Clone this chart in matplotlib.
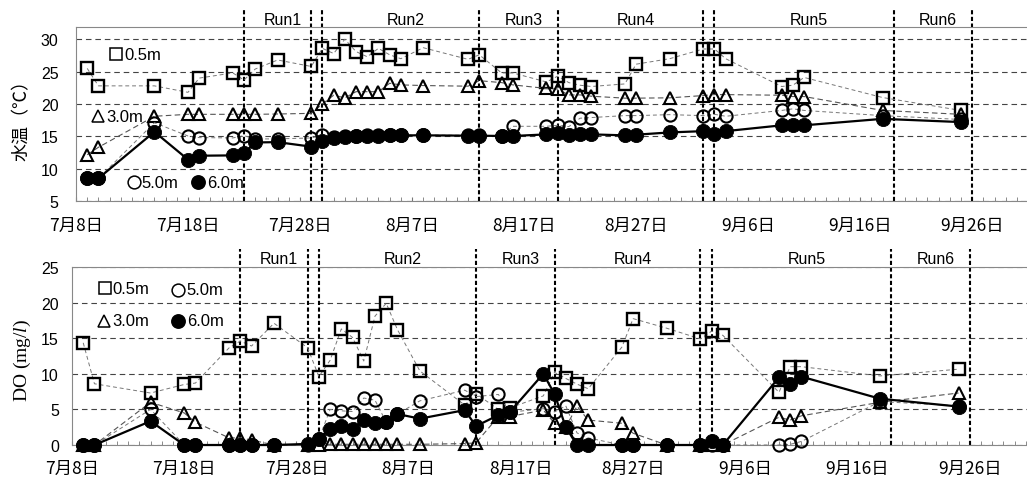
import datetime as dt
import matplotlib
matplotlib.use("Agg")
import matplotlib.pyplot as plt
import matplotlib.transforms as mtransforms
from matplotlib.lines import Line2D
from matplotlib.ticker import FixedLocator, MultipleLocator

plt.rcParams['font.family'] = ['Liberation Sans', 'Noto Sans CJK JP']
plt.rcParams['mathtext.fontset'] = 'custom'
plt.rcParams['mathtext.rm'] = 'Liberation Serif'
plt.rcParams['mathtext.it'] = 'Liberation Serif:italic'

# ---- sampling dates (month/day) ----
dates = ["7/9", "7/10", "7/15", "7/18", "7/19", "7/22", "7/23", "7/24", "7/26",
         "7/29", "7/30", "7/31", "8/1", "8/2", "8/3", "8/4", "8/5", "8/6", "8/8",
         "8/12", "8/13", "8/15", "8/16", "8/19", "8/20", "8/21", "8/22", "8/23",
         "8/26", "8/27", "8/30", "9/2", "9/3", "9/4", "9/9", "9/10", "9/11",
         "9/18", "9/25"]

# ---- water temperature (deg C) by depth ----
temp_05 = [25.5, 22.8, 22.8, 21.8, 24.0, 24.8, 23.7, 25.4, 26.8, 25.8, 28.6, 27.8,
           30.0, 28.1, 27.3, 28.6, 27.6, 27.0, 28.7, 26.9, 27.6, 24.8, 24.8, 23.4,
           24.3, 23.3, 22.9, 22.7, 23.1, 26.15, 27.0, 28.5, 28.5, 27.0, 22.7, 22.9,
           24.1, 21.0, 19.0]
temp_30 = [12.15, 13.3, 18.1, 18.4, 18.4, 18.4, 18.4, 18.4, 18.45, 18.55, 20.0, 21.35,
           20.95, 21.9, 21.9, 21.9, 23.2, 22.95, 22.85, 22.75, 23.6, 23.3, 22.95, 22.4,
           22.3, 21.4, 21.4, 21.2, 20.9, 20.9, 20.95, 21.3, 21.45, 21.45, 21.35, 21.15,
           21.15, 19.0, 18.4]
temp_50 = [8.5, 8.5, 17.1, 15.05, 14.8, 14.75, 15.1, 14.6, 14.6, 14.75, 15.15, 14.9,
           15.0, 15.1, 15.15, 15.15, 15.2, 15.2, 15.2, 15.15, 15.15, 15.1, 16.55, 16.55,
           16.7, 16.5, 17.8, 17.9, 18.2, 18.2, 18.35, 18.2, 18.4, 18.1, 19.0, 19.25,
           19.0, 18.2, 17.6]
temp_60 = [8.5, 8.5, 15.7, 11.4, 12.0, 12.05, 12.35, 14.05, 14.1, 13.4, 14.3, 14.8,
           14.95, 15.05, 15.1, 15.1, 15.15, 15.15, 15.15, 15.1, 15.1, 15.05, 15.05, 15.3,
           15.5, 15.2, 15.3, 15.3, 15.15, 15.25, 15.6, 15.8, 15.4, 15.8, 16.7, 16.7,
           16.7, 17.7, 17.2]

# ---- dissolved oxygen (mg/l) by depth ----
do_05 = [14.35, 8.6, 7.3, 8.5, 8.7, 13.65, 14.6, 13.9, 17.1, 13.65, 9.6, 11.9, 16.3,
         15.1, 11.8, 18.1, 19.9, 16.2, 10.4, 5.6, 7.2, 5.0, 5.2, 6.9, 10.2, 9.35, 8.55,
         7.9, 13.75, 17.75, 16.4, 14.9, 16.0, 15.4, 7.4, 11.0, 11.0, 9.7, 10.65]
do_30 = [0, 0, 6.0, 4.5, 3.2, 1.0, 1.0, 0.7, 0, 0, 0, 0.1, 0.1, 0.1, 0.1, 0.1, 0.1,
         0.1, 0.1, 0.2, 0.3, 4.0, 4.0, 4.9, 3.05, 2.5, 5.45, 3.5, 3.05, 1.65, 0, 0, 0,
         0, 3.9, 3.5, 4.1, 6.0, 7.3]
do_50 = [0, 0, 5.0, 0, 0, 0, 0, 0, 0, 0, 0.85, 5.0, 4.8, 4.7, 6.6, 6.3, 3.2, 4.35,
         6.2, 7.7, 6.8, 7.1, 4.6, 5.1, 4.65, 5.5, 1.7, 1.0, 0, 0, 0, 0, 0, 0, 0, 0.1,
         0.5, 6.1, 5.5]
do_60 = [0, 0, 3.35, 0, 0, 0, 0, 0, 0, 0.15, 0.85, 2.3, 2.6, 2.2, 3.5, 3.1, 3.2, 4.35,
         3.7, 4.9, 2.65, 4.2, 4.6, 10.0, 7.15, 2.5, 0, 0, 0, 0, 0, 0, 0.6, 0, 9.5, 8.6,
         9.6, 6.5, 5.4]

# ---- axis labels and run periods ----
tick_dates = ["7/8", "7/18", "7/28", "8/7", "8/17", "8/27", "9/6", "9/16", "9/26"]
tick_labels = ["7月8日", "7月18日", "7月28日", "8月7日", "8月17日", "8月27日",
               "9月6日", "9月16日", "9月26日"]
run_periods = [("Run1", "7/23", "7/29"), ("Run2", "7/30", "8/13"),
               ("Run3", "8/13", "8/20"), ("Run4", "8/20", "9/2"),
               ("Run5", "9/3", "9/19"), ("Run6", "9/19", "9/26")]
depth_labels = ["0.5m", "3.0m", "5.0m", "6.0m"]

ORIGIN = dt.date(2000, 7, 8)


def day(s):
    m, d = (int(v) for v in s.split("/"))
    return (dt.date(2000, m, d) - ORIGIN).days


x = [day(s) for s in dates]
W, H = 1027, 485
fig = plt.figure(figsize=(W / 100, H / 100), dpi=100)
fig.patch.set_facecolor("white")


def fx(px):
    return px / W


def fy(py):
    return 1 - py / H


CJK = ["Noto Sans CJK JP"]

# marker style per depth: (marker, face)
MARKERS = {"0.5m": ("s", "none"), "3.0m": ("^", "none"),
           "5.0m": ("o", "none"), "6.0m": ("o", "k")}


def setup(ax, ylim, yticks, xmax, xpad, ypad):
    ax.set_xlim(0, xmax)
    ax.set_ylim(*ylim)
    ax.set_yticks(yticks)
    ax.xaxis.set_major_locator(FixedLocator([day(s) for s in tick_dates]))
    ax.xaxis.set_minor_locator(MultipleLocator(1))
    ax.set_xticklabels(tick_labels, fontfamily=CJK, fontsize=12.5)
    ax.tick_params(axis="x", which="both", direction="in", length=3,
                   color="#777", pad=xpad)
    ax.tick_params(axis="y", length=0, pad=ypad, labelsize=11.5)
    ax.yaxis.grid(True, linestyle=(0, (5, 3.5)), color="#444", lw=0.8)
    ax.set_axisbelow(True)
    for side in ("left", "top", "bottom"):
        ax.spines[side].set_color("#888")
        ax.spines[side].set_linewidth(0.8)
    ax.spines["right"].set_visible(False)

    bounds = sorted({day(b) for _, a, c in run_periods for b in (a, c)})
    for b in bounds:
        ax.axvline(b, ymin=0, ymax=1.1, color="k", lw=1.5,
                   linestyle=(0, (2.0, 1.2)), clip_on=False, zorder=2)
    trans = mtransforms.blended_transform_factory(ax.transData, ax.transAxes)
    for name, a, c in run_periods:
        ax.text((day(a) + day(c)) / 2 + 0.45, 1.045, name, transform=trans,
                ha="center", va="center", fontsize=11.5)


def draw(ax, d05, d30, d50, d60):
    ax.plot(x, d05, linestyle=(0, (4, 3)), color="#777", lw=0.7, marker="s",
            ms=8.6, mfc="none", mec="k", mew=1.7, clip_on=False, zorder=3)
    ax.plot(x, d30, linestyle=(0, (5, 3)), color="#555", lw=0.8, marker="^",
            ms=8.6, mfc="none", mec="k", mew=1.5, clip_on=False, zorder=3)
    ax.plot(x, d50, linestyle=(0, (4, 3)), color="#777", lw=0.7, marker="o",
            ms=8.8, mfc="none", mec="k", mew=1.5, clip_on=False, zorder=3)
    ax.plot(x, d60, linestyle="-", color="k", lw=1.6, marker="o",
            ms=10.2, mfc="k", mec="k", mew=0.6, clip_on=False, zorder=4)


def legend_item(label, sym_px, text_px, py):
    marker, face = MARKERS[label]
    size = {"s": 8.6, "^": 9.2, "o": 9.2}[marker] + (0.4 if face == "k" else 0)
    fig.add_artist(Line2D([fx(sym_px)], [fy(py)], transform=fig.transFigure,
                          linestyle="none", marker=marker, ms=size, mfc=face,
                          mec="k", mew=1.1))
    fig.text(fx(text_px), fy(py), label, fontsize=12, ha="left", va="center")


# ---- water temperature panel ----
ax1 = fig.add_axes([fx(76), fy(202), fx(951), 174 / H])
setup(ax1, (5, 31.9), [5, 10, 15, 20, 25, 30], 84.9, 11.0, 12.5)
draw(ax1, temp_05, temp_30, temp_50, temp_60)
fig.text(fx(22), fy(116), "水温（℃）", rotation=90, ha="center", va="center",
         fontfamily=CJK, fontsize=13)
legend_item(depth_labels[0], 116, 124, 55)
legend_item(depth_labels[1], 98, 106, 117)
legend_item(depth_labels[2], 134, 141, 183)
legend_item(depth_labels[3], 198, 207, 183)

# ---- dissolved oxygen panel ----
ax2 = fig.add_axes([fx(72), fy(446), fx(955), 178 / H])
setup(ax2, (0, 25), [0, 5, 10, 15, 20, 25], 85.1, 10.0, 9.5)
draw(ax2, do_05, do_30, do_50, do_60)
fig.text(fx(22), fy(360), r"DO (mg/$\mathit{l}$)", rotation=90, ha="center",
         va="center", fontfamily="Liberation Serif", fontsize=14)
legend_item(depth_labels[0], 105, 112, 289)
legend_item(depth_labels[2], 178, 186, 291)
legend_item(depth_labels[1], 104, 112, 322)
legend_item(depth_labels[3], 178, 187, 322)

fig.savefig("out.png", dpi=100)
